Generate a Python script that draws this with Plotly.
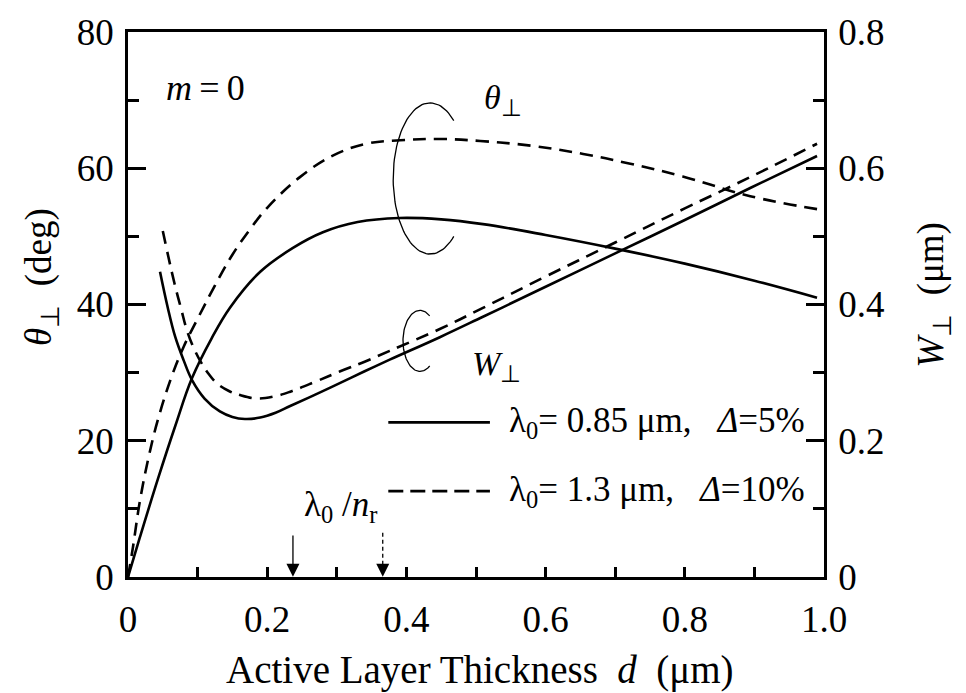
import numpy as np
import plotly.graph_objects as go

# ---------------- data ----------------
# Beam divergence theta_perp (deg), lambda0 = 0.85 um, Delta = 5%
d_theta_085 = [0, 0.017, 0.043, 0.068, 0.092, 0.12, 0.147, 0.19, 0.237, 0.28, 0.33, 0.39,
               0.45, 0.51, 0.60, 0.70, 0.80, 0.90, 0.99]
theta_085 = [0, 5.8, 14.4, 22.2, 29.2, 35.0, 39.6, 44.8, 48.3, 50.6, 52.1, 52.7,
             52.5, 51.8, 50.2, 48.2, 46.0, 43.5, 41.0]

# Beam divergence theta_perp (deg), lambda0 = 1.3 um, Delta = 10%
d_theta_13 = [0, 0.007, 0.017, 0.029, 0.043, 0.063, 0.08, 0.10, 0.125, 0.15, 0.175, 0.2, 0.247,
              0.295, 0.343, 0.391, 0.45, 0.506, 0.58, 0.654, 0.72, 0.797, 0.894, 0.99]
theta_13 = [0, 4.3, 11.1, 17.3, 23.1, 29.5, 33.8, 37.9, 42.8, 47.3, 51.0, 54.2, 58.7,
            61.9, 63.6, 64.1, 64.3, 64.0, 63.3, 62.1, 60.7, 58.8, 55.9, 54.0]

# Spot size W_perp (um), lambda0 = 0.85 um
d_w_085 = [0.046, 0.057, 0.068, 0.08, 0.092, 0.11, 0.132, 0.15, 0.168, 0.19, 0.212, 0.233,
           0.276, 0.305, 0.34, 0.376, 0.448, 0.51, 0.60, 0.70, 0.80, 0.894, 0.99]
w_085 = [0.448, 0.396, 0.352, 0.318, 0.289, 0.262, 0.243, 0.235, 0.232, 0.234, 0.241, 0.251,
         0.271, 0.285, 0.302, 0.319, 0.352, 0.382, 0.426, 0.475, 0.524, 0.571, 0.618]

# Spot size W_perp (um), lambda0 = 1.3 um
d_w_13 = [0.05, 0.058, 0.067, 0.076, 0.085, 0.095, 0.105, 0.116, 0.128, 0.145, 0.161, 0.185,
          0.21, 0.233, 0.27, 0.305, 0.34, 0.376, 0.448, 0.51, 0.60, 0.70, 0.80, 0.90, 0.99]
w_13 = [0.508, 0.47, 0.43, 0.395, 0.361, 0.335, 0.315, 0.298, 0.284, 0.273, 0.267, 0.262,
        0.265, 0.272, 0.287, 0.302, 0.316, 0.332, 0.364, 0.395, 0.441, 0.491, 0.541, 0.590, 0.636]

# lambda0 / n_r markers
arrow_d = [0.237, 0.366]

x_tickvals = [0, 0.2, 0.4, 0.6, 0.8, 1.0]
x_ticktext = ["0", "0.2", "0.4", "0.6", "0.8", "1.0"]

FONT = "Liberation Serif"
BLACK = "#000000"
LW = 2.6
DASH = "13px,8px"
SM = 1.1

fig = go.Figure()

fig.add_trace(go.Scatter(x=d_theta_085, y=theta_085, mode="lines",
                         line=dict(color=BLACK, width=LW, shape="spline", smoothing=SM),
                         showlegend=False, hoverinfo="skip"))
fig.add_trace(go.Scatter(x=d_theta_13, y=theta_13, mode="lines",
                         line=dict(color=BLACK, width=LW, dash=DASH, shape="spline", smoothing=SM),
                         showlegend=False, hoverinfo="skip"))
fig.add_trace(go.Scatter(x=d_w_085, y=w_085, mode="lines", yaxis="y2",
                         line=dict(color=BLACK, width=LW, shape="spline", smoothing=SM),
                         showlegend=False, hoverinfo="skip"))
fig.add_trace(go.Scatter(x=d_w_13, y=w_13, mode="lines", yaxis="y2",
                         line=dict(color=BLACK, width=LW, dash=DASH, shape="spline", smoothing=SM),
                         showlegend=False, hoverinfo="skip"))

# bracket arcs (C shapes) linking labels to curve pairs
def arc(cx, cy, rx, ry, a0, a1):
    t = np.radians(np.linspace(a0, a1, 80))
    return cx + rx * np.cos(t), cy + ry * np.sin(t)

ax1, ay1 = arc(0.434, 58.5, 0.053, 11.1, 50, 310)
ax2, ay2 = arc(0.4195, 34.66, 0.0244, 4.48, 55, 305)
for xs, ys in [(ax1, ay1), (ax2, ay2)]:
    fig.add_trace(go.Scatter(x=xs, y=ys, mode="lines", line=dict(color=BLACK, width=1.3),
                             showlegend=False, hoverinfo="skip"))

# hand-made legend lines
leg_x = [0.374, 0.520]
fig.add_trace(go.Scatter(x=leg_x, y=[22.7, 22.7], mode="lines",
                         line=dict(color=BLACK, width=LW), showlegend=False, hoverinfo="skip"))
fig.add_trace(go.Scatter(x=leg_x, y=[12.6, 12.6], mode="lines",
                         line=dict(color=BLACK, width=LW, dash="15px,7px"),
                         showlegend=False, hoverinfo="skip"))

# arrow shafts
fig.add_trace(go.Scatter(x=[arrow_d[0], arrow_d[0]], y=[6.1, 1.0], mode="lines",
                         line=dict(color=BLACK, width=1.3), showlegend=False, hoverinfo="skip"))
fig.add_trace(go.Scatter(x=[arrow_d[1], arrow_d[1]], y=[6.5, 1.0], mode="lines",
                         line=dict(color=BLACK, width=1.3, dash="4px,3px"),
                         showlegend=False, hoverinfo="skip"))

annotations = []
for xd in arrow_d:
    annotations.append(dict(x=xd, y=0.05, ax=xd, ay=1.7, xref="x", yref="y", axref="x", ayref="y",
                            text="", showarrow=True, arrowhead=2, arrowsize=2.0, arrowwidth=1.3,
                            arrowcolor=BLACK))

def txt(x, y, s, size, xanchor="center", xref="x", yref="y", angle=0):
    return dict(x=x, y=y, xref=xref, yref=yref, text=s, showarrow=False, xanchor=xanchor,
                yanchor="middle", textangle=angle, font=dict(family=FONT, size=size, color=BLACK))

NB = "\u00a0"
TH = "\u2009"
annotations += [
    txt(0.112, 71.8, "<i>m</i>" + TH + "=" + TH + "0", 36),
    txt(0.539, 70.0, "<i>θ</i><sub>⊥</sub>", 34),
    txt(0.530, 31.0, "<i>W</i><sub>⊥</sub>", 34),
    txt(0.305, 10.3, "λ<sub>0</sub>" + NB + "/<i>n</i><sub>r</sub>", 35),
    txt(0.545, 22.7, "λ<sub>0</sub>= 0.85 μm," + NB * 3 + "<i>Δ</i>=5%", 35, xanchor="left"),
    txt(0.545, 12.6, "λ<sub>0</sub>= 1.3 μm," + NB * 3 + "<i>Δ</i>=10%", 35, xanchor="left"),
    txt(0.506, -0.171, "Active Layer Thickness" + NB * 2 + "<i>d</i>" + NB * 2 + "(μm)", 39,
        xref="paper", yref="paper"),
    txt(-0.1236, 0.5505, "<i>θ</i><sub>⊥</sub>" + NB * 2 + "(deg)", 37, xref="paper", yref="paper",
        angle=-90),
    txt(1.158, 0.518, "<i>W</i><sub>⊥</sub>" + NB * 2 + "(μm)", 37, xref="paper", yref="paper",
        angle=-90),
]

axis_common = dict(showgrid=False, zeroline=False, showline=True, linecolor=BLACK, linewidth=2.6,
                   ticks="inside", tickcolor=BLACK, tickwidth=2.6,
                   tickfont=dict(family=FONT, size=37, color=BLACK))

fig.update_layout(
    width=966, height=693,
    margin=dict(l=128, r=142, t=23, b=116),
    paper_bgcolor="white", plot_bgcolor="white",
    showlegend=False,
    font=dict(family=FONT, color=BLACK),
    xaxis=dict(range=[0, 1.0], tickmode="array", tickvals=x_tickvals, ticktext=x_ticktext,
               ticklen=10, mirror=True, ticklabelstandoff=8,
               minor=dict(dtick=0.1, tick0=0, ticklen=10, ticks="inside", tickwidth=2.6,
                          tickcolor=BLACK),
               **axis_common),
    yaxis=dict(range=[0, 80], dtick=20, tick0=0, ticklen=18, ticklabelstandoff=4,
               minor=dict(dtick=10, tick0=0, ticklen=11, ticks="inside", tickwidth=2.6,
                          tickcolor=BLACK),
               **axis_common),
    yaxis2=dict(range=[0, 0.8], dtick=0.2, tick0=0, ticklen=18, overlaying="y", side="right",
                ticklabelstandoff=4,
                minor=dict(dtick=0.1, tick0=0, ticklen=11, ticks="inside", tickwidth=2.6,
                           tickcolor=BLACK),
                **axis_common),
    annotations=annotations,
)

fig.write_html("out.html")
